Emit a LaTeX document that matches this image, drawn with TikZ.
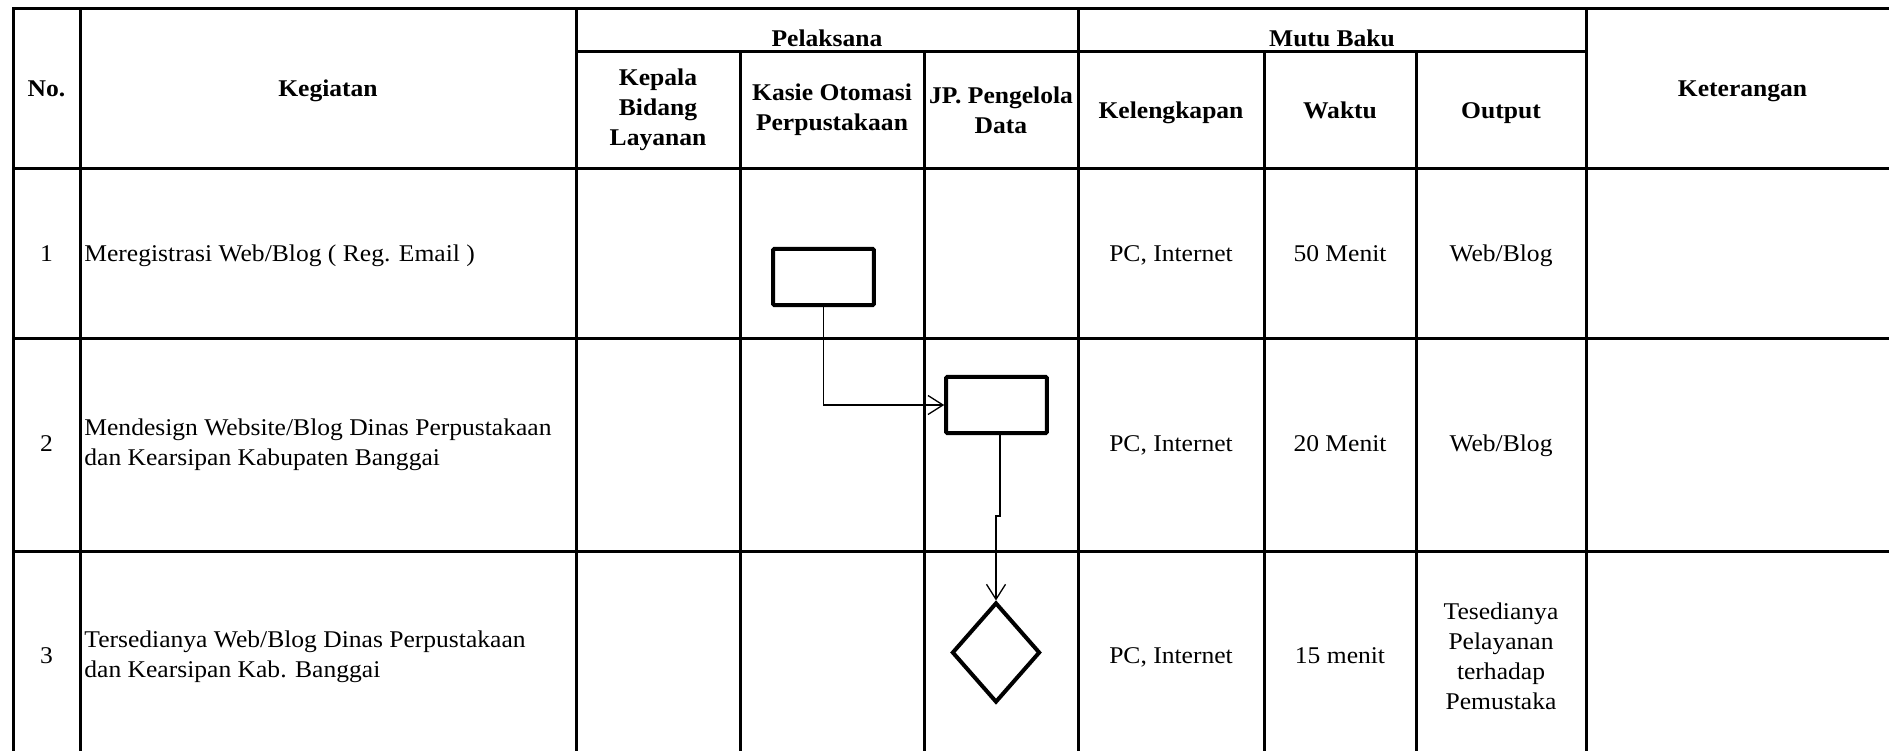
\documentclass[tikz,border=0pt]{standalone}
\usepackage{fontspec}
\setmainfont[FakeStretch=1.065]{Liberation Serif}
\usetikzlibrary{shapes.geometric,arrows.meta}
\begin{document}
\begin{tikzpicture}[x=0.5pt,y=-0.5pt,
  grid/.style={line width=1.5pt},
  txt/.style={inner sep=0pt, font=\fontsize{12}{15}\selectfont, align=center},
  hdr/.style={inner sep=0pt, font=\fontsize{12}{15}\selectfont\bfseries, align=center},
  proc/.style={draw, line width=2pt, minimum width=50.3pt, minimum height=28.2pt, inner sep=0pt, rounded corners=0.6pt},
  dec/.style={draw, diamond, line width=2pt, minimum width=44pt, minimum height=50pt, inner sep=0pt},
  flow/.style={line width=0.65pt, -{Straight Barb[length=7.5pt,width=9.5pt]}}
]
\useasboundingbox (0,0) rectangle (1889,750);
\clip (0,0) rectangle (1889,750);
\fill[white] (0,0) rectangle (1889,750);

% table grid
\draw[grid] (13,8) rectangle (1899,761);
\draw[grid] (576,51) -- (1586,51);
\draw[grid] (13,168) -- (1899,168);
\draw[grid] (13,338) -- (1899,338);
\draw[grid] (13,551) -- (1899,551);
\draw[grid] (80,8) -- (80,761);
\draw[grid] (576,8) -- (576,761);
\draw[grid] (1078,8) -- (1078,761);
\draw[grid] (1586,8) -- (1586,761);
\draw[grid] (740,51) -- (740,761);
\draw[grid] (924,51) -- (924,761);
\draw[grid] (1264,51) -- (1264,761);
\draw[grid] (1416,51) -- (1416,761);

% header
\node[hdr, anchor=base] (hno) at (46.5,96.5) {No.};
\node[hdr, anchor=base] (hkeg) at (328,96.5) {Kegiatan};
\node[hdr, anchor=base] (hpel) at (827,46) {Pelaksana};
\node[hdr, anchor=base] (hmutu) at (1332,46) {Mutu Baku};
\node[hdr, anchor=base] (hket) at (1742.5,96.5) {Keterangan};
\node[hdr] (hkep) at (658,110) {Kepala\\Bidang\\Layanan};
\node[hdr] (hkas) at (832,110) {Kasie Otomasi\\Perpustakaan};
\node[hdr] (hjp) at (1001,110) {JP. Pengelola\\Data};
\node[hdr, anchor=base] (hkel) at (1171,118) {Kelengkapan};
\node[hdr, anchor=base] (hwak) at (1340,118) {Waktu};
\node[hdr, anchor=base] (hout) at (1501,118) {Output};

% row 1
\node[txt, anchor=base] (n1) at (46.5,261.5) {1};
\node[txt, anchor=base west, align=left] (k1) at (84,261.5) {Meregistrasi Web/Blog ( Reg. Email )};
\node[txt, anchor=base] (l1) at (1171,261.5) {PC, Internet};
\node[txt, anchor=base] (w1) at (1340,261.5) {50 Menit};
\node[txt, anchor=base] (o1) at (1501,261.5) {Web/Blog};

% row 2
\node[txt, anchor=base] (n2) at (46.5,451.5) {2};
\node[txt, anchor=west, align=left] (k2) at (84,445) {Mendesign Website/Blog Dinas Perpustakaan\\dan Kearsipan Kabupaten Banggai};
\node[txt, anchor=base] (l2) at (1171,451.5) {PC, Internet};
\node[txt, anchor=base] (w2) at (1340,451.5) {20 Menit};
\node[txt, anchor=base] (o2) at (1501,451.5) {Web/Blog};

% row 3
\node[txt, anchor=base] (n3) at (46.5,663.5) {3};
\node[txt, anchor=west, align=left] (k3) at (84,657) {Tersedianya Web/Blog Dinas Perpustakaan\\dan Kearsipan Kab. Banggai};
\node[txt, anchor=base] (l3) at (1171,663.5) {PC, Internet};
\node[txt, anchor=base] (w3) at (1340,663.5) {15 menit};
\node[txt] (o3) at (1501,656) {Tesedianya\\Pelayanan\\terhadap\\Pemustaka};

% flow shapes
\node[proc] (b1) at (823.5,277) {};
\node[proc] (b2) at (996.5,405) {};
\node[dec] (d3) at (996,652.5) {};
\coordinate (j1) at (1000,516);
\coordinate (j2) at (996,516);
\draw[flow] (b1.south) |- (b2.west);
\draw[flow] (b2.south -| j1) -- (j1) -- (j2) -- (d3.north);
\end{tikzpicture}
\end{document}
